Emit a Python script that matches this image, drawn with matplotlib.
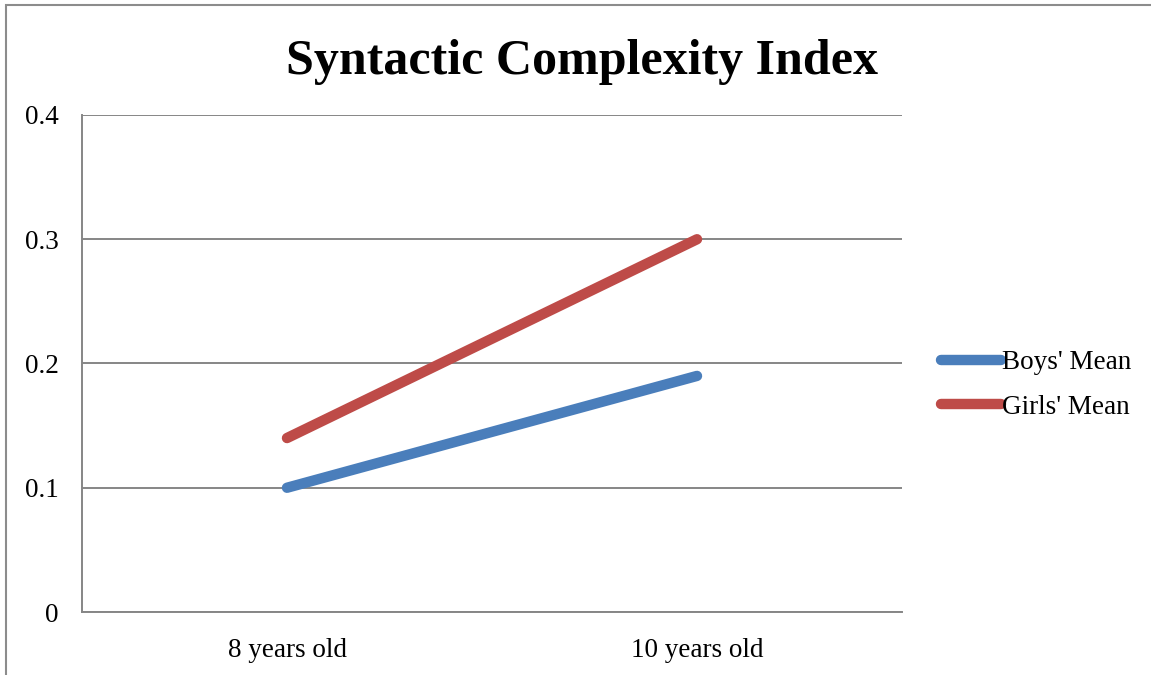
import matplotlib.pyplot as plt
from matplotlib.patches import Rectangle

# data
ages = ['8 years old', '10 years old']
boys_mean = [0.10, 0.19]
girls_mean = [0.14, 0.30]
y_ticks = [0, 0.1, 0.2, 0.3, 0.4]

plt.rcParams['font.family'] = ['Liberation Serif', 'DejaVu Serif']

fig = plt.figure(figsize=(11.51, 6.75), dpi=100)
ax = fig.add_axes([82/1151, 1 - 612/675, 820/1151, 497/675])

x = range(len(ages))
ax.plot(x, boys_mean, color='#4a7ebb', lw=7.5, solid_capstyle='round', label="Boys' Mean")
ax.plot(x, girls_mean, color='#be4b48', lw=7.5, solid_capstyle='round', label="Girls' Mean")

ax.set_xlim(-0.5, 1.5)
ax.set_ylim(0, 0.4)
ax.set_xticks(list(x))
ax.set_xticklabels(ages, fontsize=19.5)
ax.set_yticks(y_ticks)
ax.set_yticklabels(['0', '0.1', '0.2', '0.3', '0.4'], fontsize=19.5)
ax.tick_params(length=0)
ax.tick_params(axis='y', pad=17)
ax.tick_params(axis='x', pad=19)
ax.yaxis.grid(True, color='#868686', lw=1.4)
ax.set_axisbelow(True)
for s in ['top', 'right']:
    ax.spines[s].set_visible(False)
for s in ['left', 'bottom']:
    ax.spines[s].set_color('#868686')
    ax.spines[s].set_linewidth(1.4)

fig.text(582/1151, 1 - 62/675, 'Syntactic Complexity Index', fontsize=36,
         fontweight='bold', ha='center', va='center')

fig.legend(loc='center left', bbox_to_anchor=(917/1151, 1 - 385/675), frameon=False,
           fontsize=19.5, handlelength=2.2, handletextpad=0.02, labelspacing=0.72)

# chart border
fig.patches.append(Rectangle((6/1151, -0.1), 1.2, 1 - 5/675 + 0.1, transform=fig.transFigure,
                             fill=False, edgecolor='#8c8c8c', lw=1.5))

fig.savefig('out.png', dpi=100)
